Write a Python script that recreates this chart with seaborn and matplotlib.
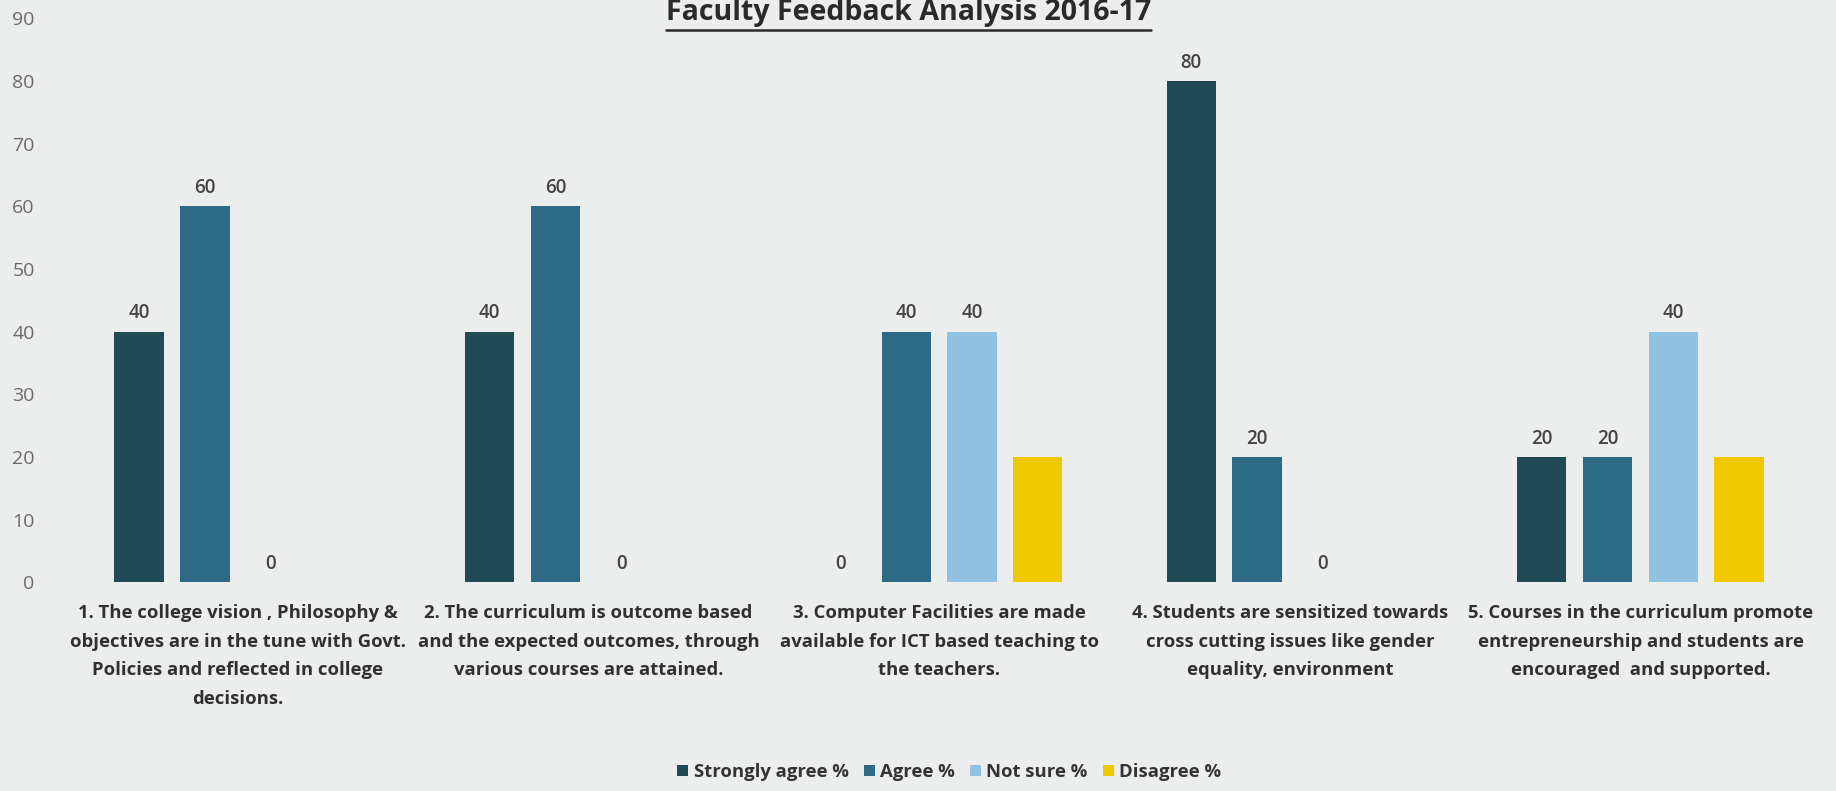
import matplotlib
matplotlib.use("Agg")
import matplotlib.pyplot as plt
import seaborn as sns
import pandas as pd
import numpy as np
from matplotlib.lines import Line2D

# ---------------- data ----------------
categories = [
    "1. The college vision , Philosophy &\nobjectives are in the tune with Govt.\nPolicies and reflected in college\ndecisions.",
    "2. The curriculum is outcome based\nand the expected outcomes, through\nvarious courses are attained.",
    "3. Computer Facilities are made\navailable for ICT based teaching to\nthe teachers.",
    "4. Students are sensitized towards\ncross cutting issues like gender\nequality, environment",
    "5. Courses in the curriculum promote\nentrepreneurship and students are\nencouraged  and supported.",
]
series = ["Strongly agree %", "Agree %", "Not sure %", "Disagree %"]
strongly_agree = [40, 40, 0, 80, 20]
agree = [60, 60, 40, 20, 20]
not_sure = [0, 0, 40, 0, 40]
disagree = [np.nan, np.nan, 20, np.nan, 20]
labelled_series = ["Strongly agree %", "Agree %", "Not sure %"]
yticks = [0, 10, 20, 30, 40, 50, 60, 70, 80, 90]
title = "Faculty Feedback Analysis 2016-17"

colors = ["#1f4a56", "#2c6a86", "#92c2e2", "#f0c800"]
bg = "#eceeed"

rows = []
for s, vals in zip(series, [strongly_agree, agree, not_sure, disagree]):
    for c, v in zip(categories, vals):
        rows.append({"Question": c, "Response": s, "Value": v})
df = pd.DataFrame(rows).dropna()

# ---------------- figure ----------------
sns.set_theme(style="white")
plt.rcParams["font.family"] = ["Open Sans", "DejaVu Sans"]

fig = plt.figure(figsize=(18.36, 7.91), dpi=100, facecolor=bg)
ax = fig.add_axes([0.034, 0.264, 0.955, 0.713])
ax.set_facecolor(bg)

sns.barplot(
    data=df, x="Question", y="Value", hue="Response",
    order=categories, hue_order=series, palette=colors,
    width=0.75, gap=0.25, saturation=1, errorbar=None, ax=ax,
    linewidth=0, edgecolor="none",
)

for cont, name in zip(ax.containers, series):
    if name in labelled_series:
        ax.bar_label(cont, fmt="%d", padding=6, fontsize=13.5,
                     color="#444444", fontweight="semibold")

ax.set_ylim(0, 90)
ax.set_xlim(-0.5, len(categories) - 0.5)
ax.set_yticks(yticks)
ax.tick_params(axis="y", length=0, pad=20, labelsize=14, labelcolor="#6a6a6a")
ax.tick_params(axis="x", length=0, pad=16, labelsize=13.3, labelcolor="#303030")
for lab in ax.get_xticklabels():
    lab.set_fontweight("bold")
    lab.set_linespacing(1.75)
ax.set_xlabel("")
ax.set_ylabel("")
for sp in ax.spines.values():
    sp.set_visible(False)
ax.grid(False)

sns.move_legend(
    ax, "center", bbox_to_anchor=(0.517, 0.024), bbox_transform=fig.transFigure,
    ncol=4, frameon=False, title=None, handlelength=0.6, handleheight=0.6,
    handletextpad=0.3, columnspacing=0.8,
    prop={"weight": "bold", "size": 13.3},
)
for t in ax.get_legend().get_texts():
    t.set_color("#333333")

ttl = fig.text(0.495, 0.966, title, ha="center", va="bottom",
               fontsize=20.5, fontweight="bold", color="#2a2a2a")
fig.canvas.draw()
bb = ttl.get_window_extent().transformed(fig.transFigure.inverted())
fig.add_artist(Line2D([bb.x0, bb.x1], [bb.y0 - 0.004, bb.y0 - 0.004],
                      transform=fig.transFigure, color="#2a2a2a", lw=1.8))

fig.savefig("out.png", dpi=100, facecolor=bg)
